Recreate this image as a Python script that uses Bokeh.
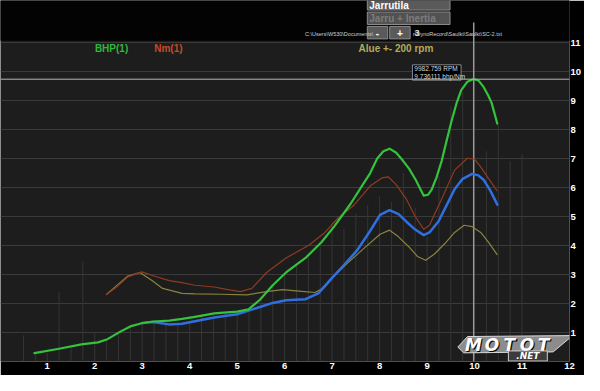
from bokeh.plotting import figure
from bokeh.models import Range1d, FixedTicker, LinearAxis, Grid, Span
from bokeh.embed import file_html
from bokeh.resources import INLINE
from bokeh.core.properties import value

# ---------------- data (rpm in thousands) ----------------
bhp_rpm = [0.73, 1.25, 1.72, 2.07, 2.27, 2.54, 2.75, 2.99, 3.23, 3.57, 3.84, 4.11, 4.52, 5.00, 5.24,
           5.48, 5.75, 6.03, 6.44, 6.78, 7.05, 7.39, 7.67, 7.80, 7.95, 8.08, 8.21, 8.35, 8.49, 8.62,
           8.76, 8.93, 9.02, 9.10, 9.20, 9.31, 9.41, 9.51, 9.62, 9.72, 9.85, 9.98, 10.09, 10.19,
           10.28, 10.36, 10.48]
bhp = [0.29, 0.44, 0.59, 0.66, 0.77, 1.03, 1.21, 1.32, 1.38, 1.41, 1.47, 1.54, 1.66, 1.72, 1.80,
       2.13, 2.63, 3.07, 3.57, 4.12, 4.67, 5.44, 6.16, 6.49, 7.00, 7.25, 7.34, 7.20, 6.93, 6.65,
       6.27, 5.72, 5.75, 5.94, 6.35, 6.93, 7.60, 8.26, 8.90, 9.36, 9.65, 9.74, 9.68, 9.47,
       9.20, 8.92, 8.20]

corr_rpm = [3.00, 3.23, 3.56, 3.84, 4.11, 4.52, 5.00, 5.48, 5.75, 6.03, 6.44, 6.71, 6.98, 7.26,
            7.53, 7.80, 8.01, 8.21, 8.40, 8.56, 8.75, 8.93, 9.05, 9.24, 9.40, 9.58, 9.75, 9.95,
            10.08, 10.19, 10.33, 10.48]
corr = [1.33, 1.36, 1.28, 1.30, 1.39, 1.52, 1.63, 1.88, 2.02, 2.11, 2.15, 2.35, 2.85, 3.34,
        3.84, 4.50, 5.06, 5.22, 5.08, 4.83, 4.55, 4.36, 4.45, 4.83, 5.35, 5.94, 6.30, 6.47,
        6.42, 6.27, 5.90, 5.41]

nm_rpm = [2.24, 2.45, 2.70, 2.99, 3.25, 3.57, 3.84, 4.11, 4.52, 4.80, 5.07, 5.31, 5.62, 6.03,
          6.51, 6.85, 7.12, 7.46, 7.80, 8.05, 8.18, 8.35, 8.56, 8.75, 8.93, 9.05, 9.31, 9.58,
          9.85, 10.00, 10.13, 10.30, 10.48]
nm = [2.30, 2.55, 2.92, 3.09, 2.95, 2.79, 2.72, 2.63, 2.57, 2.48, 2.41, 2.52, 3.07, 3.57,
      4.01, 4.45, 4.94, 5.39, 6.05, 6.33, 6.37, 6.10, 5.61, 5.00, 4.56, 4.70, 5.61, 6.60,
      7.01, 6.98, 6.71, 6.30, 5.88]

alue_rpm = [2.24, 2.45, 2.70, 2.95, 3.20, 3.43, 3.84, 4.11, 4.66, 5.21, 5.62, 5.96, 6.30, 6.64,
            6.85, 7.05, 7.33, 7.67, 8.01, 8.21, 8.40, 8.62, 8.80, 8.97, 9.15, 9.37, 9.58, 9.78,
            9.95, 10.13, 10.30, 10.48]
alue = [2.30, 2.60, 2.95, 3.07, 2.80, 2.52, 2.35, 2.33, 2.32, 2.30, 2.41, 2.48, 2.43, 2.38,
        2.57, 2.96, 3.40, 3.90, 4.39, 4.53, 4.30, 3.95, 3.62, 3.49, 3.70, 4.06, 4.45, 4.70,
        4.65, 4.45, 4.10, 3.68]

# faint sample markers
mark_rpm = [0.5, 0.75, 1.0, 1.25, 1.5, 1.75, 2.0, 2.25, 2.5, 2.75, 3.0, 3.25, 3.5, 3.75, 4.0,
            4.25, 4.5, 4.75, 5.0, 5.25, 5.5, 5.75, 6.0, 6.25, 6.5, 6.75, 7.0, 7.25, 7.5, 7.75,
            8.0, 8.25, 8.5, 8.75, 9.0, 9.25, 9.5, 9.75, 10.25, 10.5, 10.75, 11.0]
mark_top = [0.9, 0.3, 0.3, 2.4, 0.5, 3.45, 1.0, 0.75, 1.0, 1.2, 1.3, 1.35, 1.3, 1.3, 1.4,
            1.55, 1.6, 1.65, 1.7, 1.8, 2.15, 2.65, 3.05, 3.35, 3.6, 4.1, 4.8, 4.57, 5.1, 5.4,
            5.7, 5.5, 6.5, 5.3, 4.3, 6.4, 8.8, 9.3, 7.25, 8.15, 6.9, 7.15]

cursor_rpm = 9982.759
cursor_val = 9.736111

x_ticks = [1, 2, 3, 4, 5, 6, 7, 8, 9, 10, 11, 12]
y_ticks = [1, 2, 3, 4, 5, 6, 7, 8, 9, 10, 11]
series_names = ["BHP(1)", "Nm(1)", "Alue +- 200 rpm"]
path_left = "C:\\Users\\W530\\Documents\\"
path_right = "r\\DynoRecord\\Saulkt\\Saulkt\\SC-2.txt"

FONT = value("Liberation Sans")
GREEN = "#35c23c"
BLUE = "#2f6fe0"
BROWN = "#8e3b23"
OLIVE = "#88833f"

# helpers: reference-pixel positions -> data coordinates (for decorations only)
def px2x(px):
    return (px + 0.8) / 48.8

def py2y(py):
    return (376 - py) / 30.2

def xs(vals):
    return [px2x(v) for v in vals]

def ys(vals):
    return [py2y(v) for v in vals]

p = figure(width=584, height=375, x_range=Range1d(0.016, 12.0), y_range=Range1d(0, 12.45),
           output_backend="svg", toolbar_location=None, x_axis_location=None,
           y_axis_location=None, min_border_left=0, min_border_right=15, min_border_top=0,
           min_border_bottom=14, background_fill_color="#1d1d1d", border_fill_color="#000000",
           outline_line_color=None)
p.grid.visible = False

p.add_layout(Grid(dimension=1, ticker=FixedTicker(ticks=y_ticks), grid_line_color="#3a3a3a",
                  grid_line_width=1))

xa = LinearAxis(ticker=FixedTicker(ticks=x_ticks))
ya = LinearAxis(ticker=FixedTicker(ticks=y_ticks))
for ax in (xa, ya):
    ax.axis_line_color = None
    ax.major_tick_line_color = None
    ax.minor_tick_line_color = None
    ax.major_tick_in = 0
    ax.major_tick_out = 0
    ax.major_label_standoff = 1
    ax.major_label_text_font = "Liberation Sans"
    ax.major_label_text_font_style = "bold"
    ax.major_label_text_font_size = "9.5px"
    ax.major_label_text_color = "#ffffff"
p.add_layout(xa, "below")
p.add_layout(ya, "right")

# black control strip at the top
p.quad(left=[px2x(-5)], right=[px2x(610)], top=[py2y(-5)], bottom=[py2y(42)],
       fill_color="#030303", line_color=None)

# faint sample markers
p.segment(x0=mark_rpm, y0=[0] * len(mark_rpm), x1=mark_rpm, y1=mark_top,
          line_color="#353535", line_width=1)

# cursor
p.segment(x0=[cursor_rpm / 1000], y0=[0], x1=[cursor_rpm / 1000], y1=[py2y(23)],
          line_color="#9a9a9a", line_width=1.5)
p.add_layout(Span(location=cursor_val, dimension="width", line_color="#b5b5b5", line_width=1))

# curves
p.line(alue_rpm, alue, line_color=OLIVE, line_width=1.2, line_join="round")
p.line(nm_rpm, nm, line_color=BROWN, line_width=1.2, line_join="round")
p.line(corr_rpm, corr, line_color=BLUE, line_width=2.5, line_join="round", line_cap="round")
p.line(bhp_rpm, bhp, line_color=GREEN, line_width=2.2, line_join="round", line_cap="round")

# legend texts
p.text(x=xs([97, 158, 368]), y=[py2y(50)] * 3, text=series_names,
       text_baseline="middle", text_font=FONT, text_font_style="bold", text_font_size="10px",
       text_color=["#2fb83a", "#c84a25", "#b3ab5a"])

# controls
p.quad(left=xs([377, 377, 377, 400]), right=xs([462, 462, 398, 421]),
       top=ys([-2, 12, 27, 27]), bottom=ys([10, 25, 40, 40]),
       fill_color=["#5a5a5a", "#525252", "#5a5a5a", "#5a5a5a"],
       line_color="#8c8c8c", line_width=1)
p.text(x=xs([379]), y=ys([5.5]), text=["Jarrutila"], text_baseline="middle", text_font=FONT,
       text_font_style="bold", text_font_size="10px", text_color="#ffffff")
p.text(x=xs([379]), y=ys([19]), text=["Jarru + Inertia"], text_baseline="middle", text_font=FONT,
       text_font_style="bold", text_font_size="10px", text_color="#7c7c7c")
p.text(x=xs([387.5, 410.5]), y=ys([33.5, 33.5]), text=["-", "+"], text_baseline="middle",
       text_align="center", text_font=FONT, text_font_style="bold", text_font_size="10px",
       text_color="#ffffff")
p.text(x=xs([313]), y=ys([34.5]), text=[path_left], text_baseline="middle", text_font=FONT,
       text_font_size="5.5px", text_color="#d0d0d0")
p.text(x=xs([424]), y=ys([34.5]), text=[path_right], text_baseline="middle", text_font=FONT,
       text_font_size="5.5px", text_color="#d0d0d0")
p.text(x=xs([428]), y=ys([34]), text=["3"], text_baseline="middle", text_align="center",
       text_font=FONT, text_font_style="bold", text_font_size="9px", text_color="#e0e0e0")

# tooltip box
cx_px = cursor_rpm / 1000 * 48.8 - 0.8
p.quad(left=xs([cx_px - 63]), right=xs([cx_px - 13]), top=ys([67]), bottom=ys([83]),
       fill_color="#000000", line_color="#8a8a8a", line_width=1)
p.text(x=xs([cx_px - 61, cx_px - 61]), y=ys([71, 79]),
       text=[f"{cursor_rpm:.3f} RPM", f"{cursor_val:.6f} bhp/Nm"], text_baseline="middle",
       text_font=FONT, text_font_size="6.5px", text_color="#d8d8d8")

# logo
p.patch(x=xs([470, 480, 588, 568, 476]), y=ys([361, 350, 349, 366, 367]),
        fill_color="#8c8c8c", line_color="#d8d8d8", line_width=1)
lx = [486, 505, 523, 541, 558]
for dx, col in ((1.2, "#000000"), (0, "#ffffff")):
    p.text(x=xs([v + dx for v in lx]), y=[py2y(358.5 + dx)] * 5, text=list("MOTOT"),
           text_align="center", text_baseline="middle",
           text_font=value("DejaVu Sans"), text_font_style="bold italic",
           text_font_size="17px", text_color=col)
p.quad(left=xs([522]), right=xs([562]), top=ys([365]), bottom=ys([375.5]),
       fill_color="#3c3c3c", line_color="#cfcfcf", line_width=1)
p.text(x=xs([542]), y=ys([370]), text=[".NET"], text_align="center", text_baseline="middle",
       text_font=value("DejaVu Sans"), text_font_style="bold italic", text_font_size="9px",
       text_color="#ffffff")

open("out.html", "w").write(file_html(p, INLINE))
